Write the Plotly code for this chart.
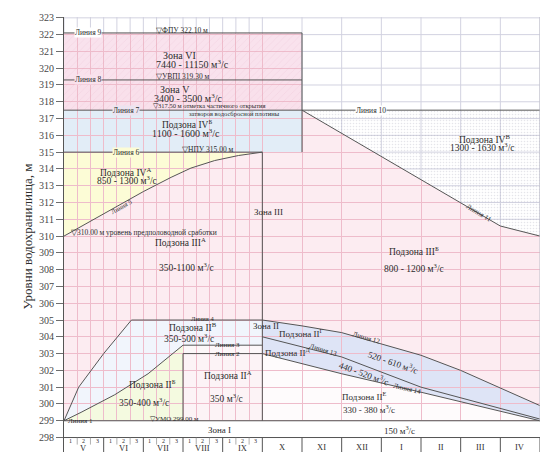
"""
Reservoir dispatch chart: zones of release vs reservoir level and season.
"""

import numpy as np
import plotly.graph_objects as go

# x axis: 0 = start of May, 12 = end of April
MONTHS = ["V", "VI", "VII", "VIII", "IX", "X", "XI", "XII", "I", "II", "III", "IV"]
DECADES = ["1", "2", "3"]
N_DECADE_MONTHS = 5            # V..IX are split into decades
LEVEL_TICKS = list(range(298, 324))

# characteristic levels, m
UMO = 299.0
NPU = 315.0
PARTIAL = 317.5
UVP = 319.3
FPU = 322.1
TABLE_TOP = 298.0
TABLE_BOTTOM = 296.94

# dispatch lines (month position, level)
LINE1_M, LINE1_Z = [0, 12], [299.0, 299.0]
LINE2_M, LINE2_Z = [3, 3, 5], [299.0, 303.0, 303.0]
LINE3_M = [0, 0.43, 1.28, 2.12, 3, 5]
LINE3_Z = [299.0, 299.5, 300.55, 301.8, 303.5, 303.5]
LINE4_M = [0, 0.37, 1.0, 1.7, 5]
LINE4_Z = [299.0, 301.0, 303.0, 305.0, 305.0]
LINE5_M = [0, 1, 2, 2.7, 3.2, 3.8, 4.4, 5]
LINE5_Z = [310.0, 311.3, 312.65, 313.5, 314.05, 314.5, 314.8, 315.0]
LINE11_M = [6, 11, 12]
LINE11_Z = [317.5, 310.6, 310.0]
LINE12_M = [5, 6, 7, 9, 10, 11, 12]
LINE12_Z = [305.0, 304.65, 304.25, 302.9, 302.0, 300.95, 299.9]
LINE13_M = [5, 7, 9, 12]
LINE13_Z = [304.0, 302.8, 301.0, 299.1]
LINE14_M = [5, 7, 9, 12]
LINE14_Z = [303.0, 301.8, 300.7, 299.0]

ZONE3_EDGE = 5      # vertical boundary of zone III / zone II
BOX_EDGE = 6        # right edge of the upper zones

LINE_C = "rgb(85,85,85)"
TEXT_C = "rgb(45,45,45)"
PINK_GRID = "rgb(238,188,203)"
GREY_GRID = "rgb(210,210,224)"
FONT = "Liberation Serif"


def path(ms, zs):
    return "M " + " L ".join(f"{m},{z}" for m, z in zip(ms, zs)) + " Z"


def region(ms, zs, color, layer="below"):
    return dict(type="path", path=path(ms, zs), xref="x", yref="y",
                fillcolor=color, line=dict(width=0), layer=layer)


def seg(x0, y0, x1, y1, color, width=1, layer="above"):
    return dict(type="line", x0=x0, y0=y0, x1=x1, y1=y1, xref="x", yref="y",
                line=dict(color=color, width=width), layer=layer)


grid_m = [k / 3 for k in range(3 * N_DECADE_MONTHS + 1)] + list(range(6, 13))
rev = lambda a: list(a)[::-1]

shapes = []
# zone fills (under the pink grid)
shapes.append(region(LINE5_M + [BOX_EDGE] + LINE11_M + rev(LINE12_M) + rev(LINE4_M),
                     LINE5_Z + [NPU] + LINE11_Z + rev(LINE12_Z) + rev(LINE4_Z),
                     "rgb(252,236,241)"))
shapes.append(region(LINE5_M + [0], LINE5_Z + [NPU], "rgb(252,252,214)"))
shapes.append(region([0, BOX_EDGE, BOX_EDGE, 0], [NPU, NPU, PARTIAL, PARTIAL], "rgb(226,237,247)"))
shapes.append(region([0, BOX_EDGE, BOX_EDGE, 0], [PARTIAL, PARTIAL, UVP, UVP], "rgb(249,224,235)"))
shapes.append(region([0, BOX_EDGE, BOX_EDGE, 0], [UVP, UVP, FPU, FPU], "rgb(249,226,237)"))
shapes.append(region(LINE4_M + rev(LINE3_M), LINE4_Z + rev(LINE3_Z), "rgb(241,245,252)"))
shapes.append(region(LINE3_M[:5] + [3, 0], LINE3_Z[:5] + [UMO, UMO], "rgb(244,250,224)"))
shapes.append(region([3, 5, 5, 3], [UMO, UMO, 303.0, 303.0], "rgb(252,243,246)"))
shapes.append(region([3, 5, 5, 3], [303.0, 303.0, 303.5, 303.5], "rgb(252,247,249)"))
shapes.append(region(LINE12_M + rev(LINE14_M), LINE12_Z + rev(LINE14_Z), "rgb(222,228,246)"))
shapes.append(region(LINE14_M + [12, 5], LINE14_Z + [UMO, UMO], "rgb(254,251,252)"))

# white areas with grey grid (over the pink grid)
shapes.append(region([0, 0, BOX_EDGE, BOX_EDGE] + LINE11_M + [12],
                     [323.05, FPU, FPU, PARTIAL] + LINE11_Z + [323.05],
                     "white", layer="between"))
shapes.append(region([0, 12, 12, 0], [TABLE_BOTTOM - 0.1, TABLE_BOTTOM - 0.1, UMO, UMO],
                     "white", layer="between"))
for m in grid_m:
    if m < BOX_EDGE:
        shapes.append(seg(m, FPU, m, 323.05, GREY_GRID, layer="between"))
    else:
        shapes.append(seg(m, float(np.interp(m, LINE11_M, LINE11_Z)), m, 323.05,
                          GREY_GRID, layer="between"))
shapes.append(seg(0, 323, 12, 323, GREY_GRID, layer="between"))
for lev in range(311, 323):
    if lev > PARTIAL:
        x0 = BOX_EDGE
    else:
        x0 = float(np.interp(lev, rev(LINE11_Z), rev(LINE11_M)))
    shapes.append(seg(x0, lev, 12, lev, GREY_GRID, layer="between"))
shapes.append(seg(12, UMO, 12, 323.05, "rgb(190,190,200)"))

# month / decade table
shapes.append(seg(0, TABLE_TOP, 12, TABLE_TOP, LINE_C))
shapes.append(seg(0, TABLE_BOTTOM, 12, TABLE_BOTTOM, LINE_C))
for i in range(1, 13):
    shapes.append(seg(i, TABLE_BOTTOM, i, TABLE_TOP, LINE_C))
for k in range(3 * N_DECADE_MONTHS):
    if k % 3:
        shapes.append(seg(k / 3, 297.58, k / 3, TABLE_TOP, "rgb(140,140,140)", width=0.7))

fig = go.Figure()

# hatched zones V, VI and dotted subzone IV-В
fig.add_trace(go.Scatter(
    x=[0, BOX_EDGE, BOX_EDGE, 0, 0], y=[PARTIAL, PARTIAL, FPU, FPU, PARTIAL],
    mode="none", fill="toself", fillcolor="rgba(0,0,0,0)",
    fillpattern=dict(shape="/", fgcolor="rgba(222,150,180,0.4)", size=5, solidity=0.12),
    hoverinfo="skip", showlegend=False))
fig.add_trace(go.Scatter(
    x=[BOX_EDGE] + LINE11_M + [12, BOX_EDGE], y=[PARTIAL] + LINE11_Z + [PARTIAL, PARTIAL],
    mode="none", fill="toself", fillcolor="rgba(0,0,0,0)",
    fillpattern=dict(shape=".", fgcolor="rgba(150,150,170,0.5)", size=3, solidity=0.22),
    hoverinfo="skip", showlegend=False))

lines = [
    (LINE1_M, LINE1_Z), (LINE2_M, LINE2_Z), (LINE3_M, LINE3_Z), (LINE4_M, LINE4_Z),
    (LINE5_M, LINE5_Z), ([0, ZONE3_EDGE], [NPU, NPU]), ([0, 12], [PARTIAL, PARTIAL]),
    ([0, BOX_EDGE], [UVP, UVP]), ([0, BOX_EDGE], [FPU, FPU]),
    ([BOX_EDGE, BOX_EDGE], [NPU, FPU]), ([ZONE3_EDGE, ZONE3_EDGE], [UMO, NPU]),
    (LINE11_M, LINE11_Z), (LINE12_M, LINE12_Z), (LINE13_M, LINE13_Z), (LINE14_M, LINE14_Z),
]
for xs, zs in lines:
    fig.add_trace(go.Scatter(x=xs, y=zs, mode="lines", line=dict(color=LINE_C, width=1),
                             hoverinfo="skip", showlegend=False))

M3 = " м<sup>3</sup>/с"
notes = [
    # text, x, y, size, angle, xanchor, bg
    ("Линия 9", 0.25, FPU, 7.5, 0, "left", "white"),
    ("▽ФПУ 322.10 м", 2.3, 322.27, 7.5, 0, "left", None),
    ("Зона VI", 2.9, 320.75, 10, 0, "center", None),
    ("7440 - 11150" + M3, 3.25, 320.25, 10, 0, "center", None),
    ("Линия 8", 0.25, UVP, 7.5, 0, "left", "rgb(249,226,237)"),
    ("▽УВПI 319.30 м", 2.3, 319.48, 7.5, 0, "left", None),
    ("Зона V", 2.8, 318.72, 10, 0, "center", None),
    ("3400 - 3500" + M3, 3.12, 318.22, 10, 0, "center", None),
    ("Линия 7", 1.22, PARTIAL, 7.5, 0, "left", "rgb(236,228,240)"),
    ("▽317.50 м отметка частичного открытия", 2.22, 317.76, 6.5, 0, "left", None),
    ("затворов водосбросной плотины", 3.12, 317.28, 6.5, 0, "left", None),
    ("Подзона IV<sup>Б</sup>", 3.1, 316.7, 9.5, 0, "center", None),
    ("1100 - 1600" + M3, 3.08, 316.17, 10, 0, "center", None),
    ("Линия 6", 1.22, NPU, 7.5, 0, "left", "rgb(252,252,214)"),
    ("▽НПУ 315.00 м", 2.95, 315.13, 7.5, 0, "left", None),
    ("Подзона IV<sup>А</sup>", 1.56, 313.82, 9.5, 0, "center", None),
    ("850 - 1300" + M3, 1.6, 313.35, 9.5, 0, "center", None),
    ("Линия 5", 1.45, 311.75, 6.5, -29, "center", None),
    ("▽310.00 м уровень предполоводной сработки", 0.15, 310.2, 7.5, 0, "left", None),
    ("Подзона III<sup>А</sup>", 2.93, 309.62, 9.5, 0, "center", None),
    ("350-1100" + M3, 3.08, 308.17, 9.5, 0, "center", None),
    ("Зона III", 5.15, 311.42, 9, 0, "center", None),
    ("Линия 10", 7.75, PARTIAL, 7.5, 0, "center", "white"),
    ("Подзона IV<sup>В</sup>", 10.59, 315.8, 9.5, 0, "center", None),
    ("1300 - 1630" + M3, 10.54, 315.3, 9.5, 0, "center", None),
    ("Линия 11", 10.45, 311.4, 7, 31, "center", None),
    ("Подзона III<sup>Б</sup>", 8.82, 309.1, 9.5, 0, "center", None),
    ("800 - 1200" + M3, 8.82, 308.1, 9.5, 0, "center", None),
    ("Линия 4", 3.5, 305.1, 6.5, 0, "center", None),
    ("Подзона II<sup>В</sup>", 3.25, 304.58, 9.5, 0, "center", None),
    ("350-500" + M3, 3.15, 303.95, 9.5, 0, "center", None),
    ("Линия 3", 4.11, 303.5, 7, 0, "center", None),
    ("Линия 2", 4.11, 303.0, 7, 0, "center", None),
    ("Подзона II<sup>Б</sup>", 2.22, 301.2, 9.5, 0, "center", None),
    ("350-400" + M3, 2.01, 300.1, 9.5, 0, "center", None),
    ("Подзона II<sup>А</sup>", 4.13, 301.72, 9.5, 0, "center", None),
    ("350" + M3, 4.09, 300.35, 9.5, 0, "center", None),
    ("Линия 1", 0.08, UMO, 7, 0, "left", None),
    ("▽УМО 299.00 м", 2.15, 299.13, 7, 0, "left", None),
    ("Зона I", 3.93, 298.45, 9, 0, "center", None),
    ("150" + M3, 8.47, 298.45, 9, 0, "center", None),
    ("Зона II", 5.1, 304.64, 9, 0, "center", None),
    ("Подзона II<sup>Г</sup>", 5.98, 304.2, 9, 0, "center", None),
    ("Подзона II<sup>Д</sup>", 5.65, 303.1, 9, 0, "center", None),
    ("Линия 12", 7.62, 303.9, 7, 16, "center", None),
    ("520 - 610" + M3, 8.3, 302.47, 9, 19, "center", None),
    ("Линия 13", 6.53, 303.2, 7, 17, "center", None),
    ("440 - 520" + M3, 7.56, 301.85, 9, 20, "center", None),
    ("Линия 14", 8.65, 300.9, 7, 13, "center", None),
    ("Подзона II<sup>Е</sup>", 7.57, 300.5, 9, 0, "center", None),
    ("330 - 380" + M3, 7.69, 299.7, 9, 0, "center", None),
]

annotations = []
for text, x, y, size, angle, xanchor, bg in notes:
    annotations.append(dict(
        text=text, x=x, y=y, xref="x", yref="y", showarrow=False,
        xanchor=xanchor, yanchor="middle", textangle=angle,
        bgcolor=bg, borderpad=0,
        font=dict(family=FONT, size=size, color=TEXT_C)))

# table labels
for i, name in enumerate(MONTHS):
    annotations.append(dict(
        text=name, x=i + 0.5, y=297.36 if i < N_DECADE_MONTHS else 297.45,
        xref="x", yref="y", showarrow=False,
        font=dict(family=FONT, size=8.5, color=TEXT_C)))
for i in range(N_DECADE_MONTHS):
    for j, d in enumerate(DECADES):
        annotations.append(dict(
            text=d, x=i + (j + 0.5) / 3, y=297.8, xref="x", yref="y", showarrow=False,
            font=dict(family=FONT, size=6, color=TEXT_C)))

fig.update_layout(
    width=550, height=452,
    margin=dict(l=56, r=18, t=5, b=4),
    paper_bgcolor="white", plot_bgcolor="white",
    shapes=shapes, annotations=annotations,
    showlegend=False,
    xaxis=dict(range=[0, 12], tickvals=grid_m, showticklabels=False, ticks="",
               showgrid=True, gridcolor=PINK_GRID, gridwidth=1, zeroline=False,
               showline=False, fixedrange=True),
    yaxis=dict(range=[296.9, 323.05], tickvals=LEVEL_TICKS, ticks="outside", ticklen=7,
               tickcolor="rgb(110,110,110)", showline=True, linecolor=LINE_C, linewidth=1,
               showgrid=True, gridcolor=PINK_GRID, gridwidth=1, zeroline=False,
               tickfont=dict(family=FONT, size=10, color="rgb(70,70,70)"),
               title=dict(text="Уровни водохранилища, м", standoff=3,
                          font=dict(family=FONT, size=13, color=TEXT_C)),
               fixedrange=True),
)

fig.write_html("out.html")
